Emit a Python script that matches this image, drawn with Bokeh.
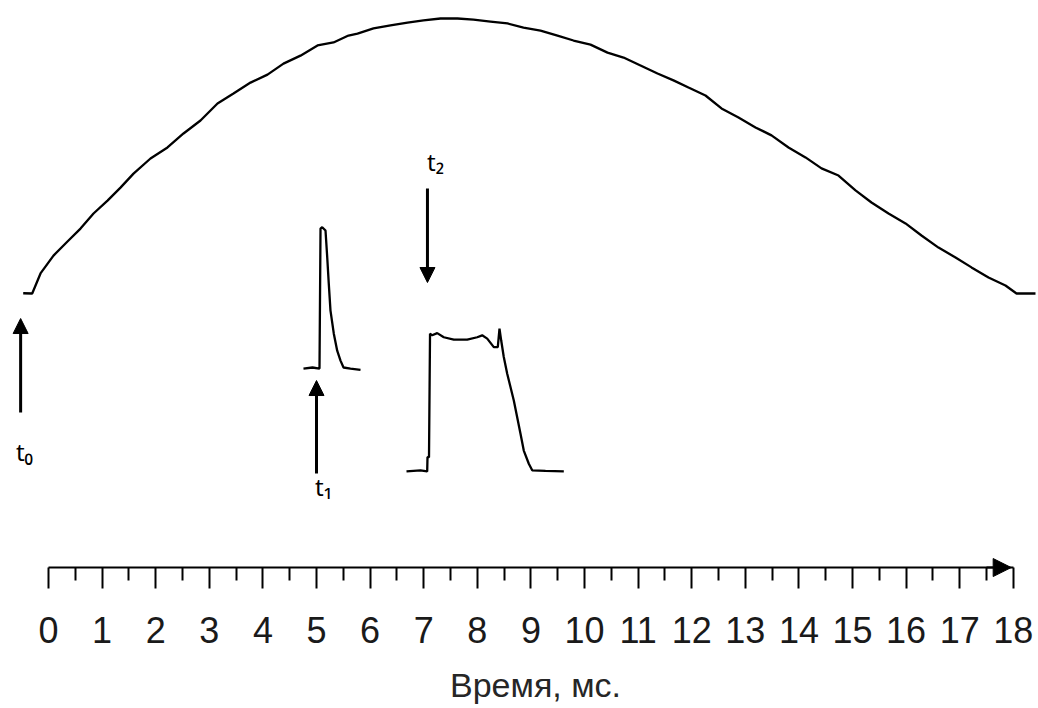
from bokeh.plotting import figure
from bokeh.models import Range1d, FixedTicker, Arrow, NormalHead, Label
from bokeh.embed import file_html
from bokeh.resources import INLINE

# Reference half-wave (normalised amplitude) versus time, ms
sine_t = [-0.472, -0.304, -0.149, 0.093, 0.354, 0.597, 0.840, 1.101, 1.343, 1.586,
          1.903, 2.220, 2.519, 2.836, 3.153, 3.451, 3.769, 4.086, 4.384, 4.701,
          5.019, 5.317, 5.597, 5.765, 6.063, 6.381, 6.698, 6.996, 7.313, 7.631,
          7.929, 8.246, 8.563, 8.862, 9.179, 9.496, 9.795, 10.112, 10.429, 10.728,
          11.045, 11.362, 11.660, 11.940, 12.257, 12.556, 12.873, 13.190, 13.489, 13.806,
          14.123, 14.422, 14.739, 15.056, 15.354, 15.672, 15.989, 16.287, 16.604, 16.922,
          17.220, 17.537, 17.854, 18.060, 18.414]
sine_v = [0.001, 0.000, 0.073, 0.138, 0.189, 0.236, 0.291, 0.338, 0.385, 0.436,
          0.491, 0.531, 0.582, 0.629, 0.691, 0.727, 0.767, 0.796, 0.836, 0.865,
          0.902, 0.913, 0.938, 0.945, 0.964, 0.975, 0.985, 0.993, 1.000, 1.000,
          0.996, 0.989, 0.982, 0.967, 0.956, 0.938, 0.920, 0.905, 0.876, 0.858,
          0.829, 0.800, 0.775, 0.749, 0.720, 0.673, 0.640, 0.604, 0.575, 0.531,
          0.495, 0.455, 0.429, 0.375, 0.331, 0.291, 0.255, 0.211, 0.167, 0.131,
          0.095, 0.058, 0.029, 0.000, 0.000]

# Short current pulse at t1
pulse1_t = [4.757, 4.925, 5.056, 5.075, 5.106, 5.168, 5.200, 5.229, 5.261, 5.323,
            5.386, 5.448, 5.504, 5.634, 5.821]
pulse1_v = [0.000, 0.004, 0.000, 0.509, 0.514, 0.502, 0.405, 0.309, 0.211, 0.127,
            0.065, 0.029, 0.004, 0.000, -0.005]

# Long pulse at t2
pulse2_t = [6.679, 6.940, 7.065, 7.071, 7.099, 7.118, 7.158, 7.252, 7.375, 7.562,
            7.812, 7.998, 8.091, 8.185, 8.308, 8.382, 8.414, 8.446, 8.494, 8.558,
            8.619, 8.681, 8.744, 8.806, 8.867, 8.961, 9.024, 9.272, 9.614]
pulse2_v = [0.000, 0.004, 0.000, 0.052, 0.052, 0.501, 0.495, 0.503, 0.488, 0.479,
            0.479, 0.488, 0.495, 0.483, 0.452, 0.452, 0.519, 0.476, 0.416, 0.355,
            0.307, 0.258, 0.197, 0.137, 0.076, 0.028, 0.004, 0.002, 0.000]

# Marker instants, ms
marker_names = ["t₀", "t₁", "t₂"]
marker_times = [-0.52, 5.0, 7.07]

tick_values = list(range(19))
tick_labels = [str(v) for v in tick_values]
axis_title = "Время, мс."

# --- layout -------------------------------------------------------------
Y_MIN, Y_MAX = -1.509, 1.0655
AXIS_Y = -0.9964          # level at which the time axis is drawn
PULSE1_BASE = -0.273
PULSE2_BASE = -0.647

p = figure(width=1038, height=708, output_backend="svg", toolbar_location=None,
           x_range=Range1d(-0.8955, 18.47), y_range=Range1d(Y_MIN, Y_MAX),
           y_axis_location=None, min_border_left=0, min_border_right=0,
           min_border_top=0, min_border_bottom=0)
p.outline_line_color = None
p.grid.visible = False
p.background_fill_color = "white"
p.border_fill_color = "white"

ax = p.xaxis[0]
ax.fixed_location = AXIS_Y
ax.bounds = (tick_values[0], tick_values[-1])
ax.ticker = FixedTicker(ticks=tick_values, minor_ticks=[v + 0.5 for v in tick_values[:-1]])
ax.major_label_overrides = {v: s for v, s in zip(tick_values, tick_labels)}
ax.axis_line_color = "black"
ax.axis_line_width = 2
ax.major_tick_in = 0
ax.major_tick_out = 21
ax.minor_tick_in = 0
ax.minor_tick_out = 13
ax.major_tick_line_width = 2
ax.minor_tick_line_width = 2
ax.major_tick_line_color = "black"
ax.minor_tick_line_color = "black"
ax.major_label_text_font = "Liberation Sans"
ax.major_label_text_font_size = "36px"
ax.major_label_text_color = "#1a1a1a"
ax.major_label_standoff = 28

# traces
p.line(sine_t, sine_v, line_width=2.3, line_color="black")
p.line(pulse1_t, [v + PULSE1_BASE for v in pulse1_v], line_width=2.3, line_color="black")
p.line(pulse2_t, [v + PULSE2_BASE for v in pulse2_v], line_width=2.3, line_color="black")

# marker arrows: (tail y, tip y) and label position
arrow_ends = [(-0.4327, -0.0909), (-0.6545, -0.3164), (0.3818, 0.040)]
label_pos = [(-0.448, -0.574), (5.131, -0.702), (7.22, 0.480)]
for t, (y0, y1), (lx, ly), name in zip(marker_times, arrow_ends, label_pos, marker_names):
    p.add_layout(Arrow(end=NormalHead(size=15, fill_color="black", line_color="black"),
                       x_start=t, y_start=y0, x_end=t, y_end=y1,
                       line_width=3, line_color="black"))
    p.add_layout(Label(x=lx, y=ly, text=name, text_font="Noto Sans",
                       text_font_size="24px", text_color="black",
                       text_align="center", text_baseline="middle"))

# filled arrowhead at the end of the time axis
p.add_layout(Arrow(end=NormalHead(size=18, fill_color="black", line_color="black"),
                   x_start=17.5, y_start=AXIS_Y, x_end=17.96, y_end=AXIS_Y,
                   line_width=2, line_color="black"))

# axis title
p.add_layout(Label(x=9.086, y=-1.425, text=axis_title, text_font="Liberation Sans",
                   text_font_size="34px", text_color="#262626",
                   text_align="center", text_baseline="middle"))

open("out.html", "w").write(file_html(p, INLINE))
